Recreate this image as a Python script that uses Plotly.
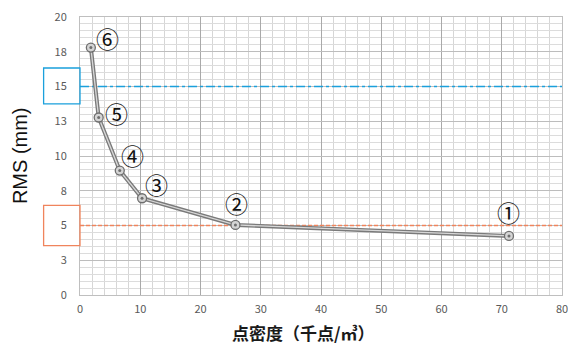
import plotly.graph_objects as go

# ---- data ----
density = [71.2, 25.8, 10.3, 6.6, 3.1, 1.8]          # 千点/㎥
rms = [4.25, 5.04, 6.96, 8.95, 12.77, 17.8]           # mm
point_labels = ["①", "②", "③", "④", "⑤", "⑥"]
thresholds = [15, 5]
y_tickvals = [0, 2.5, 5, 7.5, 10, 12.5, 15, 17.5, 20]
y_ticktext = ["0", "3", "5", "8", "10", "13", "15", "18", "20"]
x_tickvals = [0, 10, 20, 30, 40, 50, 60, 70, 80]

# ---- styles ----
label_offsets = [(0, 24), (1, 22), (14, 14), (13, 16), (18, 5), (17, 10)]
thr_styles = [dict(color="#1aa0dc", dash="dashdot", width=1.3, box=(1.33, 1.25)),
              dict(color="#f0845c", dash="4px,2px", width=1.5, box=(1.45, 1.45))]
font_jp = "Noto Sans CJK JP"

fig = go.Figure()

# threshold lines
for t, st in zip(thresholds, thr_styles):
    fig.add_trace(go.Scatter(x=[x_tickvals[0], x_tickvals[-1]], y=[t, t], mode="lines",
                             line=dict(color=st["color"], width=st["width"], dash=st["dash"]),
                             hoverinfo="skip", showlegend=False))

# double line look
fig.add_trace(go.Scatter(x=density, y=rms, mode="lines",
                         line=dict(color="#7a7a7a", width=4), showlegend=False))
fig.add_trace(go.Scatter(x=density, y=rms, mode="lines",
                         line=dict(color="#d8d8d8", width=1.3), showlegend=False))
fig.add_trace(go.Scatter(x=density, y=rms, mode="markers",
                         marker=dict(symbol="circle", size=9, color="#d4d4d4",
                                     line=dict(color="#6e6e6e", width=1.3)),
                         showlegend=False))
fig.add_trace(go.Scatter(x=density, y=rms, mode="markers",
                         marker=dict(symbol="circle", size=3, color="#6e6e6e"),
                         showlegend=False))

for xv, yv, lab, (dx, dy) in zip(density, rms, point_labels, label_offsets):
    fig.add_annotation(x=xv, y=yv, text=lab, showarrow=False, xshift=dx, yshift=dy,
                       font=dict(family=font_jp, size=23, color="#111111"))

# boxes around threshold tick labels
for t, st in zip(thresholds, thr_styles):
    up, dn = st["box"]
    fig.add_shape(type="rect", xref="paper", yref="y", x0=-0.0755, x1=0,
                  y0=t - dn, y1=t + up, line=dict(color=st["color"], width=1.3),
                  fillcolor="rgba(0,0,0,0)", layer="above")

# axis titles
fig.add_annotation(xref="paper", yref="paper", x=(303 - 79.5) / 483, y=-0.136,
                   xanchor="center", yanchor="middle", text="<b>点密度（千点/㎥）</b>",
                   showarrow=False, font=dict(family=font_jp, size=17, color="#1a1a1a"))
fig.add_annotation(xref="paper", yref="paper", x=(19.5 - 79.5) / 483, y=0.5,
                   xanchor="center", yanchor="middle", textangle=-90,
                   text="RMS (mm)", showarrow=False,
                   font=dict(family="Liberation Sans", size=20, color="#111111"))

fig.update_layout(
    width=568, height=345,
    margin=dict(l=79.5, r=5.5, t=17, b=50, autoexpand=False),
    paper_bgcolor="white", plot_bgcolor="white",
    font=dict(family=font_jp, size=11, color="#595959"),
    xaxis=dict(range=[0, 80], tickvals=x_tickvals, showgrid=True, gridcolor="#a9a9a9",
               gridwidth=1, zeroline=False, showline=True, linecolor="#bfbfbf",
               mirror=True, ticks="", ticklabelstandoff=4, ticklabeloverflow="allow",
               automargin=False,
               minor=dict(dtick=2, showgrid=True, gridcolor="#d6d6d6", gridwidth=1)),
    yaxis=dict(range=[0, 20], tickvals=y_tickvals, ticktext=y_ticktext, showgrid=True,
               gridcolor="#bdbdbd", gridwidth=1, zeroline=False, showline=True,
               linecolor="#bfbfbf", mirror=True, ticks="", ticklabelstandoff=10,
               automargin=False,
               minor=dict(dtick=0.5, showgrid=True, gridcolor="#dcdcdc", gridwidth=1)),
)

fig.write_html("out.html", config={"displayModeBar": False},
               post_script="document.body.style.margin='0';")
